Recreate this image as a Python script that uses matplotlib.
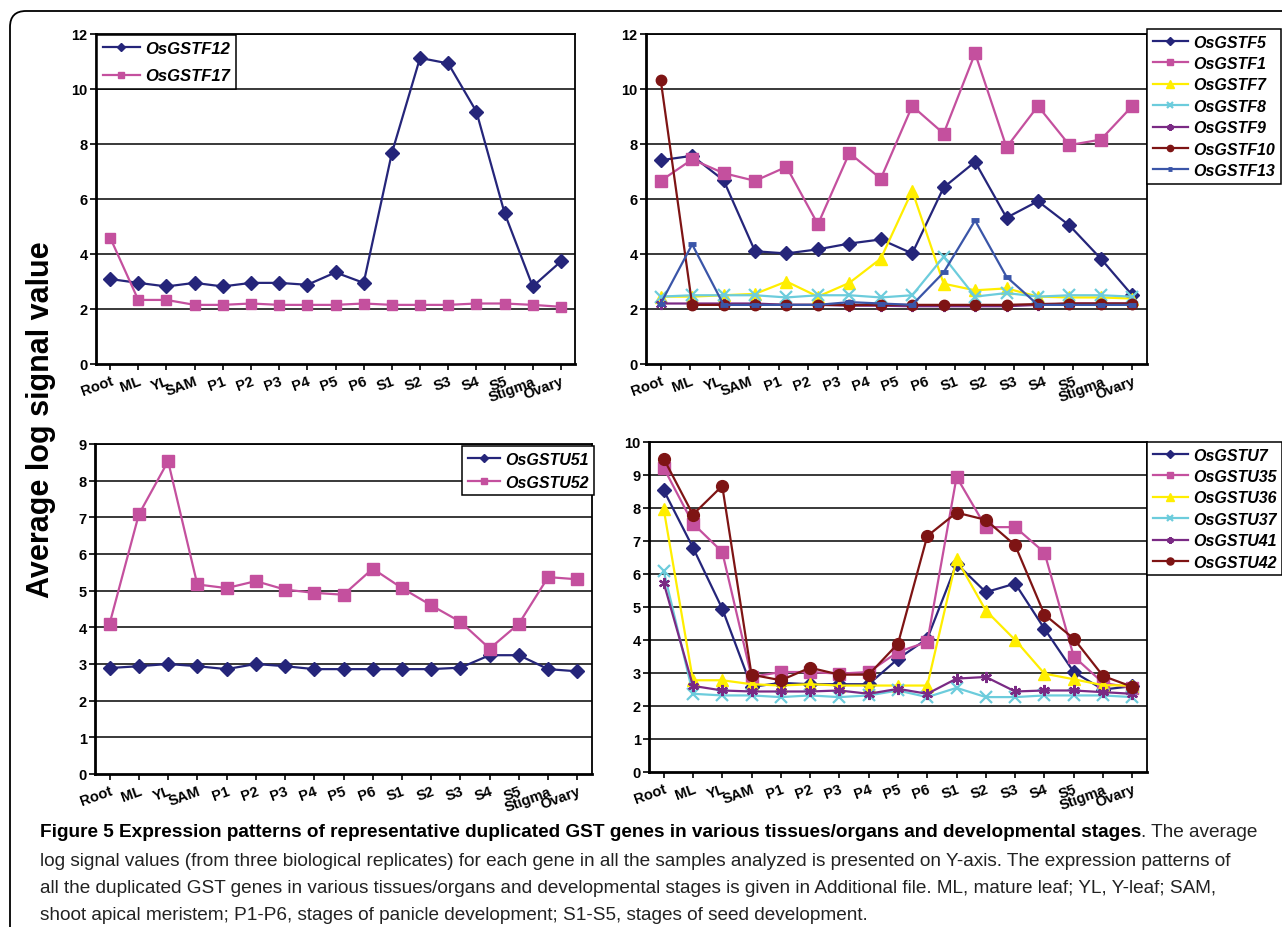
import numpy as np
import matplotlib
matplotlib.use('Agg')
import matplotlib.pyplot as plt
from matplotlib import font_manager
from matplotlib.patches import FancyBboxPatch
from matplotlib.transforms import IdentityTransform

# ---------------- data ----------------
categories = ['Root', 'ML', 'YL', 'SAM', 'P1', 'P2', 'P3', 'P4', 'P5', 'P6',
              'S1', 'S2', 'S3', 'S4', 'S5', 'Stigma', 'Ovary']

# panel top-left
gstf12 = [3.09, 2.95, 2.82, 2.95, 2.82, 2.95, 2.95, 2.88, 3.33, 2.95,
          7.67, 11.13, 10.93, 9.18, 5.49, 2.82, 3.73]
gstf17 = [4.6, 2.33, 2.33, 2.15, 2.15, 2.2, 2.15, 2.15, 2.15, 2.2,
          2.15, 2.15, 2.15, 2.2, 2.2, 2.15, 2.08]

# panel top-right (16 values spread over the 17 labels)
gstf5 = [7.41, 7.57, 6.68, 4.1, 4.02, 4.17, 4.38, 4.53, 4.02, 6.42,
         7.35, 5.32, 5.92, 5.04, 3.83, 2.5]
gstf1 = [6.66, 7.44, 6.94, 6.66, 7.17, 5.08, 7.67, 6.74, 9.38, 8.38,
         11.3, 7.88, 9.38, 7.96, 8.16, 9.38]
gstf7 = [2.45, 2.45, 2.5, 2.55, 3.0, 2.45, 2.95, 3.83, 6.3, 2.92,
         2.68, 2.75, 2.45, 2.42, 2.42, 2.38]
gstf8 = [2.45, 2.5, 2.5, 2.5, 2.42, 2.5, 2.5, 2.42, 2.5, 3.9,
         2.45, 2.58, 2.45, 2.5, 2.5, 2.45]
gstf9 = [2.2, 2.2, 2.2, 2.2, 2.15, 2.15, 2.12, 2.12, 2.1, 2.1,
         2.1, 2.1, 2.15, 2.2, 2.2, 2.2]
gstf10 = [10.32, 2.15, 2.15, 2.15, 2.15, 2.15, 2.15, 2.15, 2.15, 2.15,
          2.15, 2.15, 2.18, 2.2, 2.2, 2.2]
gstf13 = [2.2, 4.35, 2.15, 2.15, 2.15, 2.15, 2.25, 2.2, 2.15, 3.33,
          5.22, 3.17, 2.15, 2.15, 2.15, 2.15]

# panel bottom-left
gstu51 = [2.89, 2.94, 3.0, 2.94, 2.86, 3.0, 2.94, 2.86, 2.86, 2.86,
          2.86, 2.86, 2.9, 3.24, 3.24, 2.86, 2.8]
gstu52 = [4.1, 7.08, 8.53, 5.17, 5.07, 5.26, 5.03, 4.94, 4.89, 5.6,
          5.07, 4.6, 4.15, 3.42, 4.1, 5.37, 5.31]

# panel bottom-right
gstu7 = [8.54, 6.8, 4.95, 2.58, 2.7, 2.66, 2.66, 2.66, 3.43, 4.04,
         6.31, 5.45, 5.71, 4.34, 3.03, 2.5, 2.6]
gstu35 = [9.22, 7.53, 6.67, 2.88, 3.03, 3.03, 2.98, 3.03, 3.64, 3.94,
          8.94, 7.42, 7.42, 6.65, 3.5, 2.7, 2.55]
gstu36 = [7.98, 2.78, 2.78, 2.66, 2.62, 2.66, 2.62, 2.62, 2.62, 2.62,
          6.46, 4.89, 4.0, 2.98, 2.81, 2.63, 2.62]
gstu37 = [6.1, 2.37, 2.32, 2.32, 2.27, 2.32, 2.27, 2.32, 2.47, 2.27,
          2.55, 2.27, 2.27, 2.32, 2.32, 2.32, 2.27]
gstu41 = [5.74, 2.61, 2.47, 2.44, 2.44, 2.44, 2.47, 2.37, 2.52, 2.37,
          2.83, 2.88, 2.44, 2.47, 2.47, 2.42, 2.37]
gstu42 = [9.5, 7.8, 8.67, 2.95, 2.78, 3.16, 2.95, 2.95, 3.89, 7.15,
          7.86, 7.64, 6.87, 4.77, 4.04, 2.91, 2.58]

# ---------------- styles ----------------
NAVY = '#25257A'
PINK = '#C4509E'
YELLOW = '#FFEE00'
CYAN = '#6CCCDC'
PURPLE = '#7A2A84'
DRED = '#7E1414'
BLUE = '#3A55A8'
ASTER = (6, 2, 0)

W, H = 1282, 928


def has_font(name):
    try:
        font_manager.findfont(font_manager.FontProperties(family=name),
                              fallback_to_default=False)
        return True
    except Exception:
        return False


NARROW = 'Liberation Sans Narrow' if has_font('Liberation Sans Narrow') else 'Liberation Sans'
MAIN = 'Liberation Sans' if has_font('Liberation Sans') else 'DejaVu Sans'

plt.rcParams['font.family'] = [MAIN, 'DejaVu Sans']

fig = plt.figure(figsize=(W / 100, H / 100), dpi=100)


def ax_at(l, t, r, b):
    return fig.add_axes([l / W, 1 - b / H, (r - l) / W, (b - t) / H])


def style_axis(ax, ymax, n_cat=17):
    ax.set_xlim(-0.5, n_cat - 0.5)
    ax.set_ylim(0, ymax)
    step = 2 if ymax == 12 else 1
    ax.set_yticks(np.arange(0, ymax + 0.01, step))
    ax.set_xticks(np.arange(len(categories)))
    ax.set_xticklabels(categories, rotation=20, ha='right',
                       rotation_mode='anchor', fontweight='bold', fontsize=10.5)
    for lab in ax.get_yticklabels():
        lab.set_fontweight('bold')
        lab.set_fontsize(10.5)
    ax.tick_params(axis='both', direction='out', length=4, width=1.2,
                   colors='black', pad=2)
    ax.tick_params(axis='x', pad=3)
    for y in np.arange(step, ymax + 0.01, step):
        ax.axhline(y, color='#2a2a2a', lw=1.3, zorder=0.5)
    for side in ['left', 'bottom']:
        ax.spines[side].set_linewidth(2.0)
    for side in ['top', 'right']:
        ax.spines[side].set_linewidth(1.3)
    for sp in ax.spines.values():
        sp.set_color('black')


def plot(ax, x, y, color, marker, ms, label, mew=1.0, mec=None):
    ax.plot(x, y, color=color, lw=1.6, marker=marker, markersize=ms,
            markerfacecolor=color, markeredgecolor=mec or color,
            markeredgewidth=mew, label=label, zorder=3)


def legend(ax, x, y, spacing, fs=11.5, hl=2.2):
    leg = ax.legend(loc='upper left', bbox_to_anchor=(x / W, 1 - y / H),
                    bbox_transform=fig.transFigure, frameon=True,
                    fancybox=False, edgecolor='black', framealpha=1,
                    borderpad=0.35, handlelength=hl, handletextpad=0.35,
                    labelspacing=spacing, borderaxespad=0, markerscale=0.6,
                    prop=dict(family=[MAIN, 'DejaVu Sans'], weight='bold',
                              style='italic', size=fs))
    leg.get_frame().set_linewidth(1.1)
    return leg


xs = np.arange(len(categories))

# ---- top-left ----
ax1 = ax_at(96, 35, 575, 365)
style_axis(ax1, 12)
plot(ax1, xs, gstf12, NAVY, 'D', 7.5, 'OsGSTF12')
plot(ax1, xs, gstf17, PINK, 's', 7.5, 'OsGSTF17')
legend(ax1, 97, 36, 0.75, fs=12)

# ---- top-right ----
ax2 = ax_at(646, 35, 1147, 365)
style_axis(ax2, 12)
x16 = np.linspace(0, len(categories) - 1, len(gstf5))
plot(ax2, x16, gstf5, NAVY, 'D', 7.5, 'OsGSTF5')
plot(ax2, x16, gstf1, PINK, 's', 8, 'OsGSTF1')
plot(ax2, x16, gstf7, YELLOW, '^', 8.5, 'OsGSTF7')
plot(ax2, x16, gstf8, CYAN, 'x', 8, 'OsGSTF8', mew=1.6)
plot(ax2, x16, gstf9, PURPLE, ASTER, 8, 'OsGSTF9', mew=1.6)
plot(ax2, x16, gstf10, DRED, 'o', 7.5, 'OsGSTF10')
plot(ax2, x16, gstf13, BLUE, '_', 6, 'OsGSTF13', mew=3.5)
legend(ax2, 1147, 30, 0.4)

# ---- bottom-left ----
ax3 = ax_at(95, 445, 592, 775)
style_axis(ax3, 9)
plot(ax3, xs, gstu51, NAVY, 'D', 7.5, 'OsGSTU51')
plot(ax3, xs, gstu52, PINK, 's', 8, 'OsGSTU52')
legend(ax3, 462, 447, 0.5, hl=2.0)

# ---- bottom-right ----
ax4 = ax_at(649, 443, 1147, 773)
style_axis(ax4, 10)
plot(ax4, xs, gstu7, NAVY, 'D', 7.5, 'OsGSTU7')
plot(ax4, xs, gstu35, PINK, 's', 8, 'OsGSTU35')
plot(ax4, xs, gstu36, YELLOW, '^', 8.5, 'OsGSTU36')
plot(ax4, xs, gstu37, CYAN, 'x', 8, 'OsGSTU37', mew=1.6)
plot(ax4, xs, gstu41, PURPLE, ASTER, 8, 'OsGSTU41', mew=1.6)
plot(ax4, xs, gstu42, DRED, 'o', 8.5, 'OsGSTU42')
legend(ax4, 1147, 443, 0.4)

# ---- y label ----
fig.text(41 / W, 1 - 420 / H, 'Average log signal value', rotation=90,
         ha='center', va='center', fontsize=22, fontweight='bold',
         family=[NARROW, 'DejaVu Sans'])

# ---- border ----
border = FancyBboxPatch((10, -40), 1320, H - 12 + 40,
                        boxstyle='round,pad=0,rounding_size=16',
                        transform=IdentityTransform(), fill=False,
                        edgecolor='black', linewidth=1.3)
fig.add_artist(border)

# ---- caption ----
cap_bold = ('Figure 5 Expression patterns of representative duplicated GST genes '
            'in various tissues/organs and developmental stages')
cap_l1 = '. The average'
cap_l2 = ('log signal values (from three biological replicates) for each gene in all '
          'the samples analyzed is presented on Y-axis. The expression patterns of')
cap_l3 = ('all the duplicated GST genes in various tissues/organs and developmental '
          'stages is given in Additional file. ML, mature leaf; YL, Y-leaf; SAM,')
cap_l4 = ('shoot apical meristem; P1-P6, stages of panicle development; S1-S5, '
          'stages of seed development.')

fig.canvas.draw()
r = fig.canvas.get_renderer()
cfam = [NARROW, 'DejaVu Sans']
probe = fig.text(0, 0, cap_l2, fontsize=13, family=cfam)
pw = probe.get_window_extent(r).width
probe.remove()
fs = 13 * (1200.0 / pw)

x0 = 40 / W
tb = fig.text(x0, 1 - 833 / H, cap_bold, fontsize=fs, fontweight='bold',
              family=cfam, va='center', ha='left')
bb = tb.get_window_extent(r)
fig.text(bb.x1 / W, 1 - 833 / H, cap_l1, fontsize=fs, family=cfam,
         va='center', ha='left', color='#222222')
for txt, yy in [(cap_l2, 862), (cap_l3, 889), (cap_l4, 916)]:
    fig.text(x0, 1 - yy / H, txt, fontsize=fs, family=cfam, va='center',
             ha='left', color='#222222')

fig.savefig('out.png', dpi=100)
